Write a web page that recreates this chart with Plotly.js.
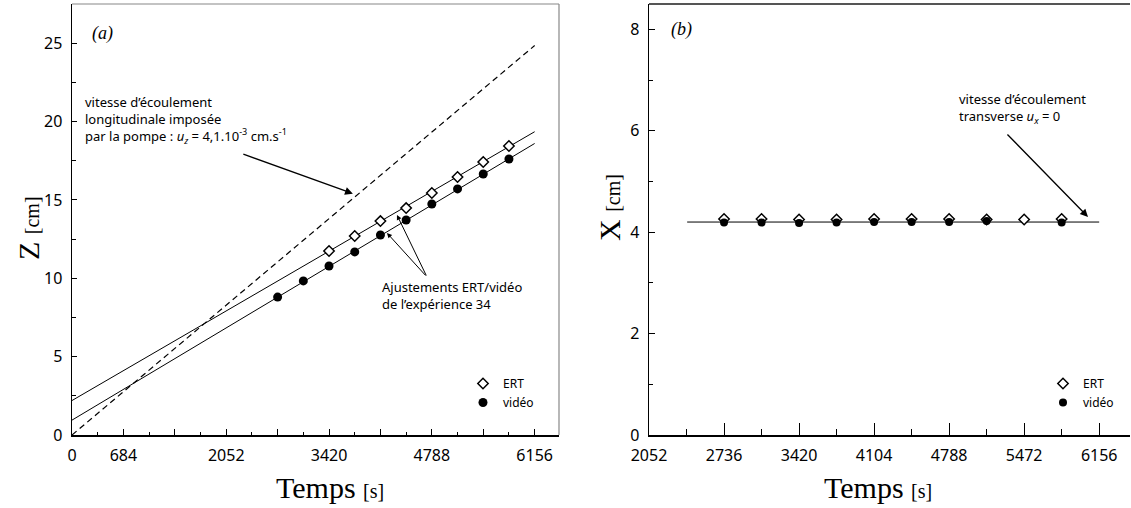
<!DOCTYPE html>
<html>
<head>
<meta charset="utf-8">
<script src="https://cdn.plot.ly/plotly-3.0.1.min.js"></script>
<style>html,body{margin:0;padding:0;background:#fff;}#chart{width:1131px;height:508px;}</style>
</head>
<body>
<div id="chart"></div>
<script>
// ---- Panel (a) data ----
const ertTimeA = [3420, 3762, 4104, 4446, 4788, 5130, 5472, 5814];
const ertZ = [11.74, 12.70, 13.65, 14.48, 15.44, 16.46, 17.42, 18.44];
const videoTimeA = [2736, 3078, 3420, 3762, 4104, 4446, 4788, 5130, 5472, 5814];
const videoZ = [8.80, 9.83, 10.78, 11.68, 12.76, 13.72, 14.74, 15.70, 16.65, 17.61];
const fitTimeA = [0, 6156];
const ertFitZ = [2.2, 19.35];
const videoFitZ = [0.95, 18.6];
const pumpTime = [0, 6156];
const pumpZ = [0, 24.85];
const tickValsA = [0, 684, 1368, 2052, 2736, 3420, 4104, 4788, 5472, 6156];
const tickTextA = ['0', '684', '', '2052', '', '3420', '', '4788', '', '6156'];

// ---- Panel (b) data ----
const timeB = [2736, 3078, 3420, 3762, 4104, 4446, 4788, 5130, 5472, 5814];
const ertX = [4.26, 4.26, 4.25, 4.25, 4.26, 4.26, 4.26, 4.25, 4.25, 4.26];
const videoX = [4.19, 4.19, 4.18, 4.19, 4.20, 4.20, 4.20, 4.22, null, 4.19];
const fitTimeB = [2400, 6156];
const fitX = [4.2, 4.2];

const sans = 'Noto Sans';
const serif = 'Liberation Serif';

const traces = [
  {x: pumpTime, y: pumpZ, mode: 'lines', line: {color: '#000', width: 1.2, dash: '6px,4px'}, showlegend: false, xaxis: 'x', yaxis: 'y', hoverinfo: 'skip'},
  {x: fitTimeA, y: ertFitZ, mode: 'lines', line: {color: '#000', width: 1}, showlegend: false, xaxis: 'x', yaxis: 'y'},
  {x: fitTimeA, y: videoFitZ, mode: 'lines', line: {color: '#000', width: 1}, showlegend: false, xaxis: 'x', yaxis: 'y'},
  {x: ertTimeA, y: ertZ, name: 'ERT', mode: 'markers', marker: {symbol: 'diamond', size: 8, color: '#fff', line: {color: '#000', width: 1.5}}, xaxis: 'x', yaxis: 'y', legend: 'legend'},
  {x: videoTimeA, y: videoZ, name: 'vidéo', mode: 'markers', marker: {symbol: 'circle', size: 9, color: '#000'}, xaxis: 'x', yaxis: 'y', legend: 'legend'},

  {x: fitTimeB, y: fitX, mode: 'lines', line: {color: '#000', width: 1}, showlegend: false, xaxis: 'x2', yaxis: 'y2'},
  {x: timeB, y: ertX, name: 'ERT', mode: 'markers', marker: {symbol: 'diamond', size: 8, color: '#fff', line: {color: '#000', width: 1.5}}, xaxis: 'x2', yaxis: 'y2', legend: 'legend2'},
  {x: timeB, y: videoX, name: 'vidéo', mode: 'markers', marker: {symbol: 'circle', size: 8, color: '#000'}, xaxis: 'x2', yaxis: 'y2', legend: 'legend2'}
];

const tickFont = {family: sans, size: 16, color: '#000'};
const axBase = {showgrid: false, zeroline: false, showline: true, linecolor: '#000', linewidth: 1.5,
  ticks: 'inside', tickcolor: '#000', tickwidth: 1, tickfont: tickFont, ticklabelstandoff: 5, fixedrange: true};

const layout = {
  width: 1131, height: 508,
  margin: {l: 0, r: 0, t: 4, b: 73},
  paper_bgcolor: '#fff', plot_bgcolor: '#fff',
  xaxis: Object.assign({}, axBase, {domain: [72/1131, 559/1131], range: [0, 6480], tickmode: 'array', tickvals: tickValsA, ticktext: tickTextA, ticklen: 6,
    minor: {tick0: 0, dtick: 342, ticks: 'inside', ticklen: 3, tickcolor: '#000', tickwidth: 1}, anchor: 'y'}),
  yaxis: Object.assign({}, axBase, {domain: [0, 1], range: [0, 27.5], tickmode: 'linear', tick0: 0, dtick: 5, ticklen: 5,
    minor: {tick0: 0, dtick: 2.5, ticks: 'inside', ticklen: 4, tickcolor: '#000', tickwidth: 1}, anchor: 'x'}),
  xaxis2: Object.assign({}, axBase, {domain: [649/1131, 1130/1131], range: [2052, 6437], tickmode: 'linear', tick0: 2052, dtick: 684, ticklen: 12,
    minor: {tick0: 2052, dtick: 342, ticks: 'inside', ticklen: 6, tickcolor: '#000', tickwidth: 1}, anchor: 'y2'}),
  yaxis2: Object.assign({}, axBase, {domain: [0, 1], range: [0, 8.5], tickmode: 'linear', tick0: 0, dtick: 2, ticklen: 6,
    minor: {tick0: 0, dtick: 1, ticks: 'inside', ticklen: 4, tickcolor: '#000', tickwidth: 1}, anchor: 'x2'}),
  legend: {x: 463/1131, xanchor: 'left', y: (435-369)/431, yanchor: 'top', bgcolor: 'rgba(0,0,0,0)', font: {family: sans, size: 12, color: '#000'}, itemwidth: 30, tracegroupgap: 0},
  legend2: {x: 1043/1131, xanchor: 'left', y: (435-369)/431, yanchor: 'top', bgcolor: 'rgba(0,0,0,0)', font: {family: sans, size: 12, color: '#000'}, itemwidth: 30, tracegroupgap: 0},
  shapes: [
    {type: 'line', xref: 'x domain', yref: 'y domain', x0: 0, x1: 1, y0: 1, y1: 1, line: {color: '#888', width: 1.2}},
    {type: 'line', xref: 'x domain', yref: 'y domain', x0: 1, x1: 1, y0: 0, y1: 1, line: {color: '#888', width: 1.2}},
    {type: 'line', xref: 'x2 domain', yref: 'y2 domain', x0: 0, x1: 1, y0: 1, y1: 1, line: {color: '#555', width: 2}}
  ],
  annotations: [
    {xref: 'x', yref: 'y', x: 240, y: 25.6, text: '<i>(a)</i>', showarrow: false, xanchor: 'left', yanchor: 'middle', font: {family: serif, size: 18, color: '#000'}},
    {xref: 'x', yref: 'y', x: 146, y: 20.1, text: 'vitesse d’écoulement<br>longitudinale imposée<br>par la pompe : <i>u<sub>z</sub></i> = 4,1.10<sup>-3</sup> cm.s<sup>-1</sup>', showarrow: false, xanchor: 'left', yanchor: 'middle', align: 'left', font: {family: sans, size: 13, color: '#000'}},
    {xref: 'x', yref: 'y', x: 3737, y: 15.4, text: '', showarrow: true, ax: -111, ay: -40, arrowhead: 2, arrowsize: 1.2, arrowwidth: 1.3, arrowcolor: '#000'},
    {xref: 'x', yref: 'y', x: 4096, y: 8.87, text: 'Ajustements ERT/vidéo<br>de l’expérience 34', showarrow: false, xanchor: 'left', yanchor: 'middle', align: 'left', font: {family: sans, size: 13, color: '#000'}},
    {xref: 'x', yref: 'y', x: 4324, y: 14.04, text: '', showarrow: true, ax: 30, ay: 62, arrowhead: 2, arrowsize: 1, arrowwidth: 1, arrowcolor: '#000'},
    {xref: 'x', yref: 'y', x: 4191, y: 12.89, text: '', showarrow: true, ax: 40, ay: 44, arrowhead: 2, arrowsize: 1, arrowwidth: 1, arrowcolor: '#000'},

    {xref: 'x2', yref: 'y2', x: 2234, y: 8, text: '<i>(b)</i>', showarrow: false, xanchor: 'left', yanchor: 'middle', font: {family: serif, size: 18, color: '#000'}},
    {xref: 'x2', yref: 'y2', x: 4860, y: 6.43, text: 'vitesse d’écoulement<br>transverse <i>u<sub>x</sub></i> = 0', showarrow: false, xanchor: 'left', yanchor: 'middle', align: 'left', font: {family: sans, size: 13, color: '#000'}},
    {xref: 'x2', yref: 'y2', x: 6054, y: 4.30, text: '', showarrow: true, ax: -82, ay: -84, arrowhead: 2, arrowsize: 1.2, arrowwidth: 1.3, arrowcolor: '#000'},

    {xref: 'paper', yref: 'paper', x: 330/1131, y: (435-487)/431, text: 'Temps <span style="font-size:20px">[s]</span>', showarrow: false, xanchor: 'center', yanchor: 'middle', font: {family: serif, size: 30, color: '#000'}},
    {xref: 'paper', yref: 'paper', x: 878/1131, y: (435-487)/431, text: 'Temps <span style="font-size:20px">[s]</span>', showarrow: false, xanchor: 'center', yanchor: 'middle', font: {family: serif, size: 30, color: '#000'}},
    {xref: 'paper', yref: 'paper', x: 28/1131, y: (435-228)/431, text: 'Z <span style="font-size:20px">[cm]</span>', textangle: -90, showarrow: false, xanchor: 'center', yanchor: 'middle', font: {family: serif, size: 30, color: '#000'}},
    {xref: 'paper', yref: 'paper', x: 609/1131, y: (435-208)/431, text: 'X <span style="font-size:20px">[cm]</span>', textangle: -90, showarrow: false, xanchor: 'center', yanchor: 'middle', font: {family: serif, size: 30, color: '#000'}}
  ]
};

Plotly.newPlot('chart', traces, layout, {displayModeBar: false, staticPlot: true});
</script>
</body>
</html>
